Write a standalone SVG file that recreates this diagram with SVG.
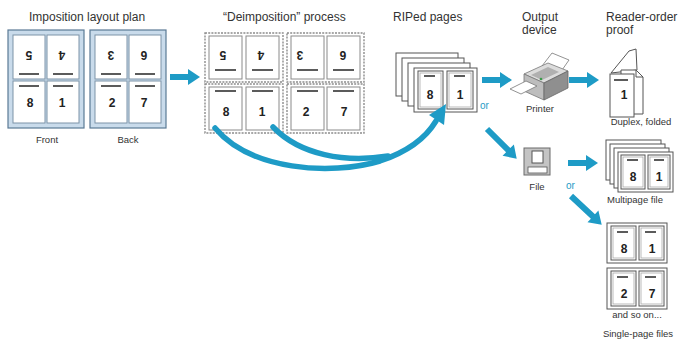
<svg xmlns="http://www.w3.org/2000/svg" width="681" height="341" viewBox="0 0 681 341">
<style>
.t{font-family:"Liberation Sans",Arial,sans-serif;fill:#333}
.title{font-size:12px}
.lbl{font-size:9.5px}
.mid{text-anchor:middle}
.or{font-family:"Liberation Sans",Arial,sans-serif;font-size:10px;fill:#1e9bc6}
.num{font-family:"Liberation Sans",Arial,sans-serif;font-size:12px;font-weight:bold;fill:#222;text-anchor:middle}
.sheet{fill:#c9dbeb;stroke:#5b7a95;stroke-width:1.2}
.cell{fill:#fff;stroke:#7d93a8;stroke-width:1}
.dcell{fill:#fff;stroke:#8a8a8a;stroke-width:1}
.bar{stroke:#333;stroke-width:1.6}
.dash{fill:none;stroke:#8c8c8c;stroke-width:1.4;stroke-dasharray:2 1.2}
.pg{fill:#fff;stroke:#555;stroke-width:1}
.pgin{fill:none;stroke:#aaa;stroke-width:0.8}
.blue{fill:#1e9bc6}
.curve{fill:none;stroke:#1e9bc6;stroke-width:5.5;stroke-linecap:round}
</style>
<defs>
<path id="arr" d="M0,-3 H18 V-8 L30,0 L18,8 V3 H0 Z"/>
<path id="arrlong" d="M0,-3 H30 V-8 L42,0 L30,8 V3 H0 Z"/>
</defs>

<!-- column headings -->
<g id="titles" class="t title">
<text x="29" y="21">Imposition layout plan</text>
<text x="223" y="21">“Deimposition” process</text>
<text x="393" y="21">RIPed pages</text>
<text x="522" y="21">Output</text>
<text x="522" y="34">device</text>
<text x="606" y="21">Reader-order</text>
<text x="606" y="34">proof</text>
</g>

<!-- imposed sheet, front side -->
<g id="front-sheet">
<rect class="sheet" x="8" y="30" width="76" height="98"/>
<rect class="cell" x="13" y="35" width="32" height="44"/>
<rect class="cell" x="47" y="35" width="32" height="44"/>
<rect class="cell" x="13" y="81" width="32" height="42"/>
<rect class="cell" x="47" y="81" width="32" height="42"/>
<line class="bar" x1="19" y1="74" x2="39" y2="74"/>
<line class="bar" x1="53" y1="74" x2="73" y2="74"/>
<line class="bar" x1="19" y1="86" x2="39" y2="86"/>
<line class="bar" x1="53" y1="86" x2="73" y2="86"/>
<text class="num" x="29" y="59" transform="rotate(180 29 55)">5</text>
<text class="num" x="62" y="59" transform="rotate(180 62 55)">4</text>
<text class="num" x="30" y="107">8</text>
<text class="num" x="62" y="107">1</text>
<text class="t lbl mid" x="47" y="143">Front</text>
</g>

<!-- imposed sheet, back side -->
<g id="back-sheet">
<rect class="sheet" x="90" y="30" width="76" height="98"/>
<rect class="cell" x="95" y="35" width="32" height="44"/>
<rect class="cell" x="129" y="35" width="32" height="44"/>
<rect class="cell" x="95" y="81" width="32" height="42"/>
<rect class="cell" x="129" y="81" width="32" height="42"/>
<line class="bar" x1="101" y1="74" x2="121" y2="74"/>
<line class="bar" x1="135" y1="74" x2="155" y2="74"/>
<line class="bar" x1="101" y1="86" x2="121" y2="86"/>
<line class="bar" x1="135" y1="86" x2="155" y2="86"/>
<text class="num" x="111" y="59" transform="rotate(180 111 55)">3</text>
<text class="num" x="144" y="59" transform="rotate(180 144 55)">6</text>
<text class="num" x="112" y="107">2</text>
<text class="num" x="144" y="107">7</text>
<text class="t lbl mid" x="128" y="143">Back</text>
</g>

<!-- separated pages -->
<g id="deimposition">
<rect class="dash" x="205" y="33" width="78" height="49"/>
<rect class="dash" x="287" y="33" width="77" height="49"/>
<rect class="dash" x="205" y="84" width="78" height="49"/>
<rect class="dash" x="287" y="84" width="77" height="49"/>
<rect class="dcell" x="209" y="36" width="33" height="43"/>
<rect class="dcell" x="246" y="36" width="33" height="43"/>
<rect class="dcell" x="291" y="36" width="33" height="43"/>
<rect class="dcell" x="327" y="36" width="33" height="43"/>
<rect class="dcell" x="209" y="87" width="33" height="43"/>
<rect class="dcell" x="246" y="87" width="33" height="43"/>
<rect class="dcell" x="291" y="87" width="33" height="43"/>
<rect class="dcell" x="327" y="87" width="33" height="43"/>
<line class="bar" x1="215" y1="70" x2="236" y2="70"/>
<line class="bar" x1="252" y1="70" x2="273" y2="70"/>
<line class="bar" x1="297" y1="70" x2="318" y2="70"/>
<line class="bar" x1="333" y1="70" x2="354" y2="70"/>
<line class="bar" x1="215" y1="91" x2="236" y2="91"/>
<line class="bar" x1="252" y1="91" x2="273" y2="91"/>
<line class="bar" x1="297" y1="91" x2="318" y2="91"/>
<line class="bar" x1="333" y1="91" x2="354" y2="91"/>
<text class="num" x="223" y="59" transform="rotate(180 223 55)">5</text>
<text class="num" x="261" y="59" transform="rotate(180 261 55)">4</text>
<text class="num" x="300" y="59" transform="rotate(180 300 55)">3</text>
<text class="num" x="343" y="59" transform="rotate(180 343 55)">6</text>
<text class="num" x="226" y="116">8</text>
<text class="num" x="262" y="116">1</text>
<text class="num" x="306" y="116">2</text>
<text class="num" x="344" y="116">7</text>
</g>

<!-- rendered page stack -->
<g id="riped-pages">
<rect class="pg" x="396" y="53" width="62" height="43"/>
<rect class="pg" x="402" y="58" width="62" height="43"/>
<rect class="pg" x="408" y="63" width="62" height="43"/>
<rect class="pg" x="414" y="68" width="63" height="44"/>
<rect class="pg" x="418" y="71" width="25" height="38"/>
<rect class="pgin" x="420" y="73" width="21" height="34"/>
<rect class="pg" x="447" y="71" width="26" height="38"/>
<rect class="pgin" x="449" y="73" width="22" height="34"/>
<line class="bar" x1="424" y1="76" x2="435" y2="76"/>
<line class="bar" x1="454" y1="76" x2="465" y2="76"/>
<text class="num" x="430" y="99">8</text>
<text class="num" x="460" y="99">1</text>
<text class="or" x="480" y="109">or</text>
</g>

<!-- printer -->
<g id="printer" transform="translate(-3,0)">
<polygon points="545,66 555,53 572,60 563,73" fill="#fff" stroke="#777" stroke-width="0.8"/>
<polygon points="527,74 551,63 571,71 547,83" fill="#dcdcdc" stroke="#777" stroke-width="0.8"/>
<polygon points="527,74 547,83 547,100 527,91" fill="#bdbdbd" stroke="#777" stroke-width="0.8"/>
<polygon points="547,83 571,71 571,88 547,100" fill="#8f8f8f" stroke="#666" stroke-width="0.8"/>
<polygon points="534,75 551,67 562,72 545,80" fill="#b0b0b0"/>
<circle cx="544" cy="79" r="1.3" fill="#3a9a4a"/>
<polygon points="513,89 529,81 540,86 524,94" fill="#fff" stroke="#777" stroke-width="0.8"/>
<text class="t lbl mid" x="543" y="112">Printer</text>
</g>

<!-- folded duplex proof -->
<g id="duplex-proof">
<polygon points="611,73 629,51 636,49 637,70" fill="#fff" stroke="#555" stroke-width="1"/>
<polygon points="621,70 636,70 643,77 643,114 621,114" fill="#fff" stroke="#555" stroke-width="1"/>
<polyline points="636,70 636,77 643,77" fill="none" stroke="#555" stroke-width="1"/>
<rect class="pg" x="610" y="74" width="24" height="43"/>
<line class="bar" x1="614" y1="80" x2="628" y2="80"/>
<text class="num" x="624" y="99">1</text>
<text class="t lbl mid" x="641" y="125">Duplex, folded</text>
</g>

<!-- file -->
<g id="file">
<rect x="524" y="148" width="26" height="27" fill="#c4c4c4" stroke="#6a6a6a" stroke-width="1"/>
<rect x="532" y="151" width="11" height="12" fill="#fff" stroke="#555" stroke-width="1"/>
<rect x="528" y="167" width="19" height="6" fill="#fff" stroke="#555" stroke-width="0.8"/>
<text class="t lbl mid" x="537" y="190">File</text>
<text class="or" x="566" y="189">or</text>
</g>

<!-- multipage file -->
<g id="multipage-file">
<rect class="pg" x="606" y="140" width="55" height="40"/>
<rect class="pg" x="610" y="144" width="55" height="40"/>
<rect class="pg" x="614" y="148" width="55" height="40"/>
<rect class="pg" x="618" y="152" width="55" height="40"/>
<rect class="pg" x="621" y="155" width="24" height="34"/>
<rect class="pgin" x="623" y="157" width="20" height="30"/>
<rect class="pg" x="648" y="155" width="22" height="34"/>
<rect class="pgin" x="650" y="157" width="18" height="30"/>
<line class="bar" x1="627" y1="160" x2="638" y2="160"/>
<line class="bar" x1="654" y1="160" x2="664" y2="160"/>
<text class="num" x="633" y="181">8</text>
<text class="num" x="659" y="181">1</text>
<text class="t lbl" x="607" y="203">Multipage file</text>
</g>

<!-- single page files -->
<g id="single-page-files">
<rect class="pg" x="607" y="223" width="60" height="40"/>
<rect class="pg" x="611" y="226" width="25" height="34"/>
<rect class="pgin" x="613" y="228" width="21" height="30"/>
<rect class="pg" x="639" y="226" width="25" height="34"/>
<rect class="pgin" x="641" y="228" width="21" height="30"/>
<line class="bar" x1="617" y1="232" x2="628" y2="232"/>
<line class="bar" x1="645" y1="232" x2="656" y2="232"/>
<text class="num" x="624" y="253">8</text>
<text class="num" x="652" y="253">1</text>
<rect class="pg" x="607" y="268" width="60" height="41"/>
<rect class="pg" x="611" y="271" width="25" height="35"/>
<rect class="pgin" x="613" y="273" width="21" height="31"/>
<rect class="pg" x="639" y="271" width="25" height="35"/>
<rect class="pgin" x="641" y="273" width="21" height="31"/>
<line class="bar" x1="617" y1="277" x2="628" y2="277"/>
<line class="bar" x1="645" y1="277" x2="656" y2="277"/>
<text class="num" x="624" y="298">2</text>
<text class="num" x="652" y="298">7</text>
<text class="t lbl mid" x="637" y="318">and so on...</text>
<text class="t lbl mid" x="638" y="337">Single-page files</text>
</g>

<!-- connectors -->
<g id="connectors">
<use href="#arr" class="blue" transform="translate(170,77)"/>
<use href="#arr" class="blue" transform="translate(482,80)"/>
<use href="#arr" class="blue" transform="translate(569,80)"/>
<use href="#arrlong" class="blue" transform="translate(487,129) rotate(45)"/>
<use href="#arr" class="blue" transform="translate(568,163)"/>
<use href="#arrlong" class="blue" transform="translate(571,196) rotate(43)"/>
<path class="curve" d="M215,128 C250,170 330,176 380,161 C410,151 427,136 436,121"/>
<path class="curve" d="M273,127 C300,155 345,163 388,156"/>
<polygon class="blue" points="446,104 444,125 429,115"/>
</g>
</svg>
